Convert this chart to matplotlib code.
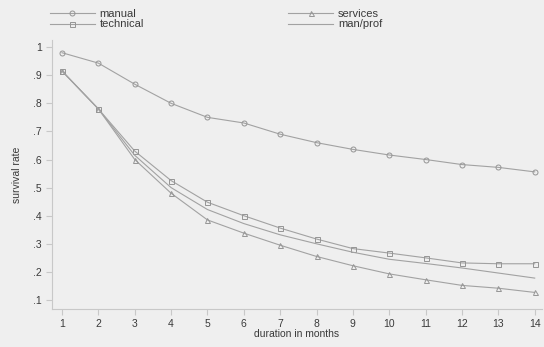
import matplotlib
matplotlib.use("Agg")
import matplotlib.pyplot as plt

plt.rcParams['font.family'] = ['Liberation Sans', 'DejaVu Sans']

months = list(range(1, 15))
manual = [0.98, 0.943, 0.868, 0.80, 0.75, 0.73, 0.69, 0.66, 0.636, 0.616, 0.60, 0.582, 0.572, 0.556]
technical = [0.915, 0.78, 0.63, 0.525, 0.448, 0.40, 0.356, 0.317, 0.283, 0.267, 0.25, 0.232, 0.229, 0.229]
services = [0.915, 0.78, 0.60, 0.48, 0.385, 0.338, 0.295, 0.255, 0.222, 0.193, 0.172, 0.152, 0.142, 0.127]
manprof = [0.915, 0.78, 0.615, 0.50, 0.422, 0.372, 0.332, 0.30, 0.27, 0.245, 0.23, 0.214, 0.196, 0.178]

yticks = [0.1, 0.2, 0.3, 0.4, 0.5, 0.6, 0.7, 0.8, 0.9, 1.0]
ylabels = ['.1', '.2', '.3', '.4', '.5', '.6', '.7', '.8', '.9', '1']

bg = '#efefef'
ink = '#a2a2a2'
txt = '#3a3a3a'

fig = plt.figure(figsize=(5.44, 3.47), dpi=100, facecolor=bg)
ax = fig.add_axes([0.0956, 0.1095, 0.90, 0.775], facecolor=bg)

mk = dict(color=ink, lw=0.8, markersize=3.6, markerfacecolor='none',
          markeredgecolor='#959595', markeredgewidth=0.7)
ax.plot(months, manual, marker='o', label='manual', **mk)
ax.plot(months, technical, marker='s', label='technical', **mk)
ax.plot(months, services, marker='^', label='services', **mk)
ax.plot(months, manprof, color=ink, lw=0.8, label='man/prof')

ax.set_xlim(0.725, 14.19)
ax.set_ylim(0.068, 1.025)
ax.set_xticks(months)
ax.set_yticks(yticks)
ax.set_yticklabels(ylabels)

for s in ['top', 'right']:
    ax.spines[s].set_visible(False)
for s in ['left', 'bottom']:
    ax.spines[s].set_color('#c8c8c8')
    ax.spines[s].set_linewidth(0.8)
ax.tick_params(colors='#c8c8c8', labelcolor=txt, labelsize=7.5, length=4, width=0.8)

ax.set_xlabel('duration in months', fontsize=7.5, color=txt, labelpad=0)
ax.set_ylabel('survival rate', fontsize=7.5, color=txt, labelpad=8)

fig.legend(loc='upper left', bbox_to_anchor=(0.076, 1.0), ncol=2, frameon=False,
           fontsize=8, labelcolor=txt, handlelength=4.0, handletextpad=0.45,
           columnspacing=13.0, labelspacing=0.05, borderpad=0.3)

fig.savefig('out.png', dpi=100, facecolor=bg)
